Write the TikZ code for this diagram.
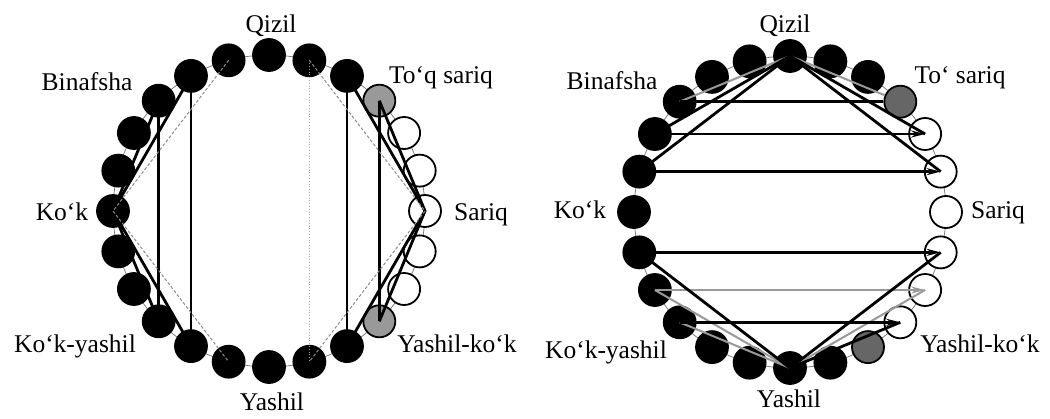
\documentclass[tikz,border=0pt]{standalone}
\usepackage{fontspec}
\setmainfont{Liberation Serif}
\usetikzlibrary{arrows.meta}
\begin{document}
\begin{tikzpicture}[x=1pt,y=-1pt,
  dot/.style={circle,draw=black,line width=1.8pt,minimum size=32pt,inner sep=0pt},
  blk/.style={dot,fill=black},
  wht/.style={dot,fill=white},
  hatl/.style={dot,fill=black!40},
  hatd/.style={dot,fill=black!60},
  ring/.style={draw=black!55,line width=0.7pt},
  boldline/.style={draw=black,line width=2.8pt,line join=round},
  faint/.style={draw=black!45,line width=1pt,densely dashed},
  lightline/.style={draw=black!40,line width=2pt,line join=round},
  tip/.style={-{Stealth[length=14pt,width=7pt]}},
  lbl/.style={font=\fontsize{25.5}{30}\selectfont,anchor=base,inner sep=0pt}
]
\useasboundingbox (0,0) rectangle (1050,418);
\fill[white] (0,0) rectangle (1050,418);

% ---------- left wheel ----------
\draw[ring] (269,211) circle[radius=156];
\foreach \a/\s in {0/wht,15/wht,30/wht,45/hatl,60/blk,75/blk,90/blk,105/blk,120/blk,
  135/blk,150/blk,165/blk,180/blk,195/blk,210/blk,225/blk,240/blk,255/blk,270/blk,
  285/blk,300/blk,315/hatl,330/wht,345/wht}
  \node[\s] (L\a) at ({269+156*cos(\a)},{211-156*sin(\a)}) {};

\draw[boldline] (L120.center) -- (L180.center) -- (L240.center);
\draw[boldline] (L135.center) -- (L180.center) -- (L225.center);
\draw[boldline] (L120.center) -- (L240.center);
\draw[boldline] (L135.center) -- (L225.center);
\draw[faint] (L105.center) -- (L180.center) -- (L255.center);
\draw[boldline] (L60.center) -- (L0.center) -- (L300.center);
\draw[boldline] (L45.center) -- (L0.center) -- (L315.center);
\draw[boldline] (L60.center) -- (L300.center);
\draw[boldline] (L45.center) -- (L315.center);
\draw[faint] (L75.center) -- (L0.center) -- (L285.center);
\draw[draw=black!35,line width=0.8pt,dotted] (L75.center) -- (L285.center);

\node[lbl] (lq) at (271,32) {Qizil};
\node[lbl] (lb) at (87,90) {Binafsha};
\node[lbl] (lt) at (441,83) {To‘q sariq};
\node[lbl] (lk) at (62,220) {Ko‘k};
\node[lbl] (ls) at (481,220) {Sariq};
\node[lbl] (lky) at (75,352) {Ko‘k-yashil};
\node[lbl] (lyk) at (457,352) {Yashil-ko‘k};
\node[lbl] (ly) at (272,410) {Yashil};

% ---------- right wheel ----------
\draw[ring] (790,212) circle[radius=156];
\foreach \a/\s in {0/wht,15/wht,30/wht,45/hatd,60/blk,75/blk,90/blk,105/blk,120/blk,
  135/blk,150/blk,165/blk,180/blk,195/blk,210/blk,225/blk,240/blk,255/blk,270/blk,
  285/blk,300/hatd,315/wht,330/wht,345/wht}
  \node[\s] (R\a) at ({790+156*cos(\a)},{212-156*sin(\a)}) {};

\draw[lightline] (R135.center) -- (R90.center) -- (R45);
\draw[boldline] (R165.center) -- (R90.center) -- (R15.center);
\draw[boldline] (R150.center) -- (R90.center) -- (R30.center);
\draw[boldline] (R135.center) -- (R45);
\draw[boldline,tip] (R150.center) -- (R30.center);
\draw[boldline,tip] (R165.center) -- (R15.center);

\draw[lightline] (R210.center) -- (R270.center) -- (R330.center);
\draw[lightline] (R225.center) -- (R270.center);
\draw[lightline,tip] (R210.center) -- (R330.center);
\draw[boldline] (R195.center) -- (R270.center) -- (R345.center);
\draw[boldline] (R270.center) -- (R315.center);
\draw[boldline,tip] (R195.center) -- (R345.center);
\draw[boldline,tip] (R225.center) -- (R315.center);

\node[lbl] (rq) at (785,32) {Qizil};
\node[lbl] (rb) at (612,89) {Binafsha};
\node[lbl] (rt) at (960,83) {To‘ sariq};
\node[lbl] (rk) at (580,218) {Ko‘k};
\node[lbl] (rs) at (998,218) {Sariq};
\node[lbl] (rky) at (606,358) {Ko‘k-yashil};
\node[lbl] (ryk) at (980,352) {Yashil-ko‘k};
\node[lbl] (ry) at (789,407) {Yashil};
\end{tikzpicture}
\end{document}
